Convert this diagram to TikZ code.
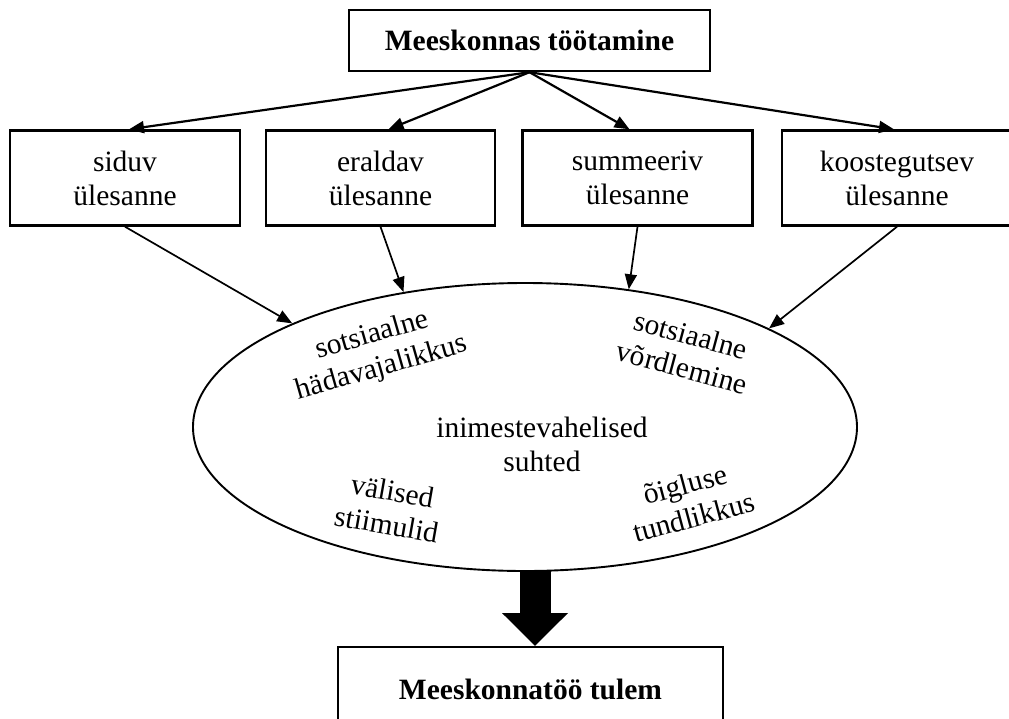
\documentclass[tikz,border=0pt]{standalone}
\usepackage{fontspec}
\setmainfont{Liberation Serif}
\usetikzlibrary{shapes.geometric,arrows.meta}
\begin{document}
\begin{tikzpicture}[x=1pt,y=-1pt,
  every node/.style={font=\fontsize{29.5}{34}\selectfont},
  box/.style={draw,line width=2.4pt,rectangle,inner sep=0pt,align=center},
  task/.style={box,minimum width=230pt,minimum height=95pt},
  lbl/.style={align=center,inner sep=0pt},
  arr/.style={line width=2.2pt,-{Triangle[length=15pt,width=12pt]}},
  arr2/.style={line width=1.7pt,-{Triangle[length=15pt,width=12pt]}},
  fat/.style={line width=31pt,-{Triangle[length=33pt,width=64pt]}}]
\useasboundingbox (0,0) rectangle (1009,718);

\node[box,minimum width=361pt,minimum height=61pt] (top) at (529.5,40.5) {\bfseries Meeskonnas töötamine};

\node[task] (b1) at (125,178) {siduv\\ülesanne};
\node[task,minimum width=229pt] (b2) at (380.5,178) {eraldav\\ülesanne};
\node[task] (b3) at (637.5,178) {summeeriv\\ülesanne};
\node[task] (b4) at (897,178) {koostegutsev\\ülesanne};

\node[draw,ellipse,line width=1.9pt,minimum width=664pt,minimum height=288pt,inner sep=0pt] (ell) at (525,427) {};

\node[lbl,rotate=16] (t1) at (377,352) {sotsiaalne\\hädavajalikkus};
\node[lbl,rotate=-15] (t2) at (686.5,351) {sotsiaalne\\võrdlemine};
\node[lbl] (t3) at (542,444) {inimestevahelised\\suhted};
\node[lbl,rotate=-10] (t4) at (389.5,507.5) {välised\\stiimulid};
\node[lbl,rotate=15] (t5) at (689.5,500.5) {õigluse\\tundlikkus};

\node[box,minimum width=385pt,minimum height=84pt] (res) at (530.5,689) {\bfseries Meeskonnatöö tulem};

\draw[arr] (top.south) -- ([xshift=4pt]b1.north);
\draw[arr] (top.south) -- ([xshift=8pt]b2.north);
\draw[arr] (top.south) -- ([xshift=-8pt]b3.north);
\draw[arr] (top.south) -- ([xshift=-3pt]b4.north);

\draw[arr2] (b1.south) -- (ell.156);
\draw[arr2] (b2.south) -- (ell.132);
\draw[arr2] (b3.south) -- (ell.53);
\draw[arr2] (b4.south) -- (ell.22);

\coordinate (ta) at (535,571);
\coordinate (tb) at (535,646);
\draw[fat] (ta) -- (tb);
\end{tikzpicture}
\end{document}
